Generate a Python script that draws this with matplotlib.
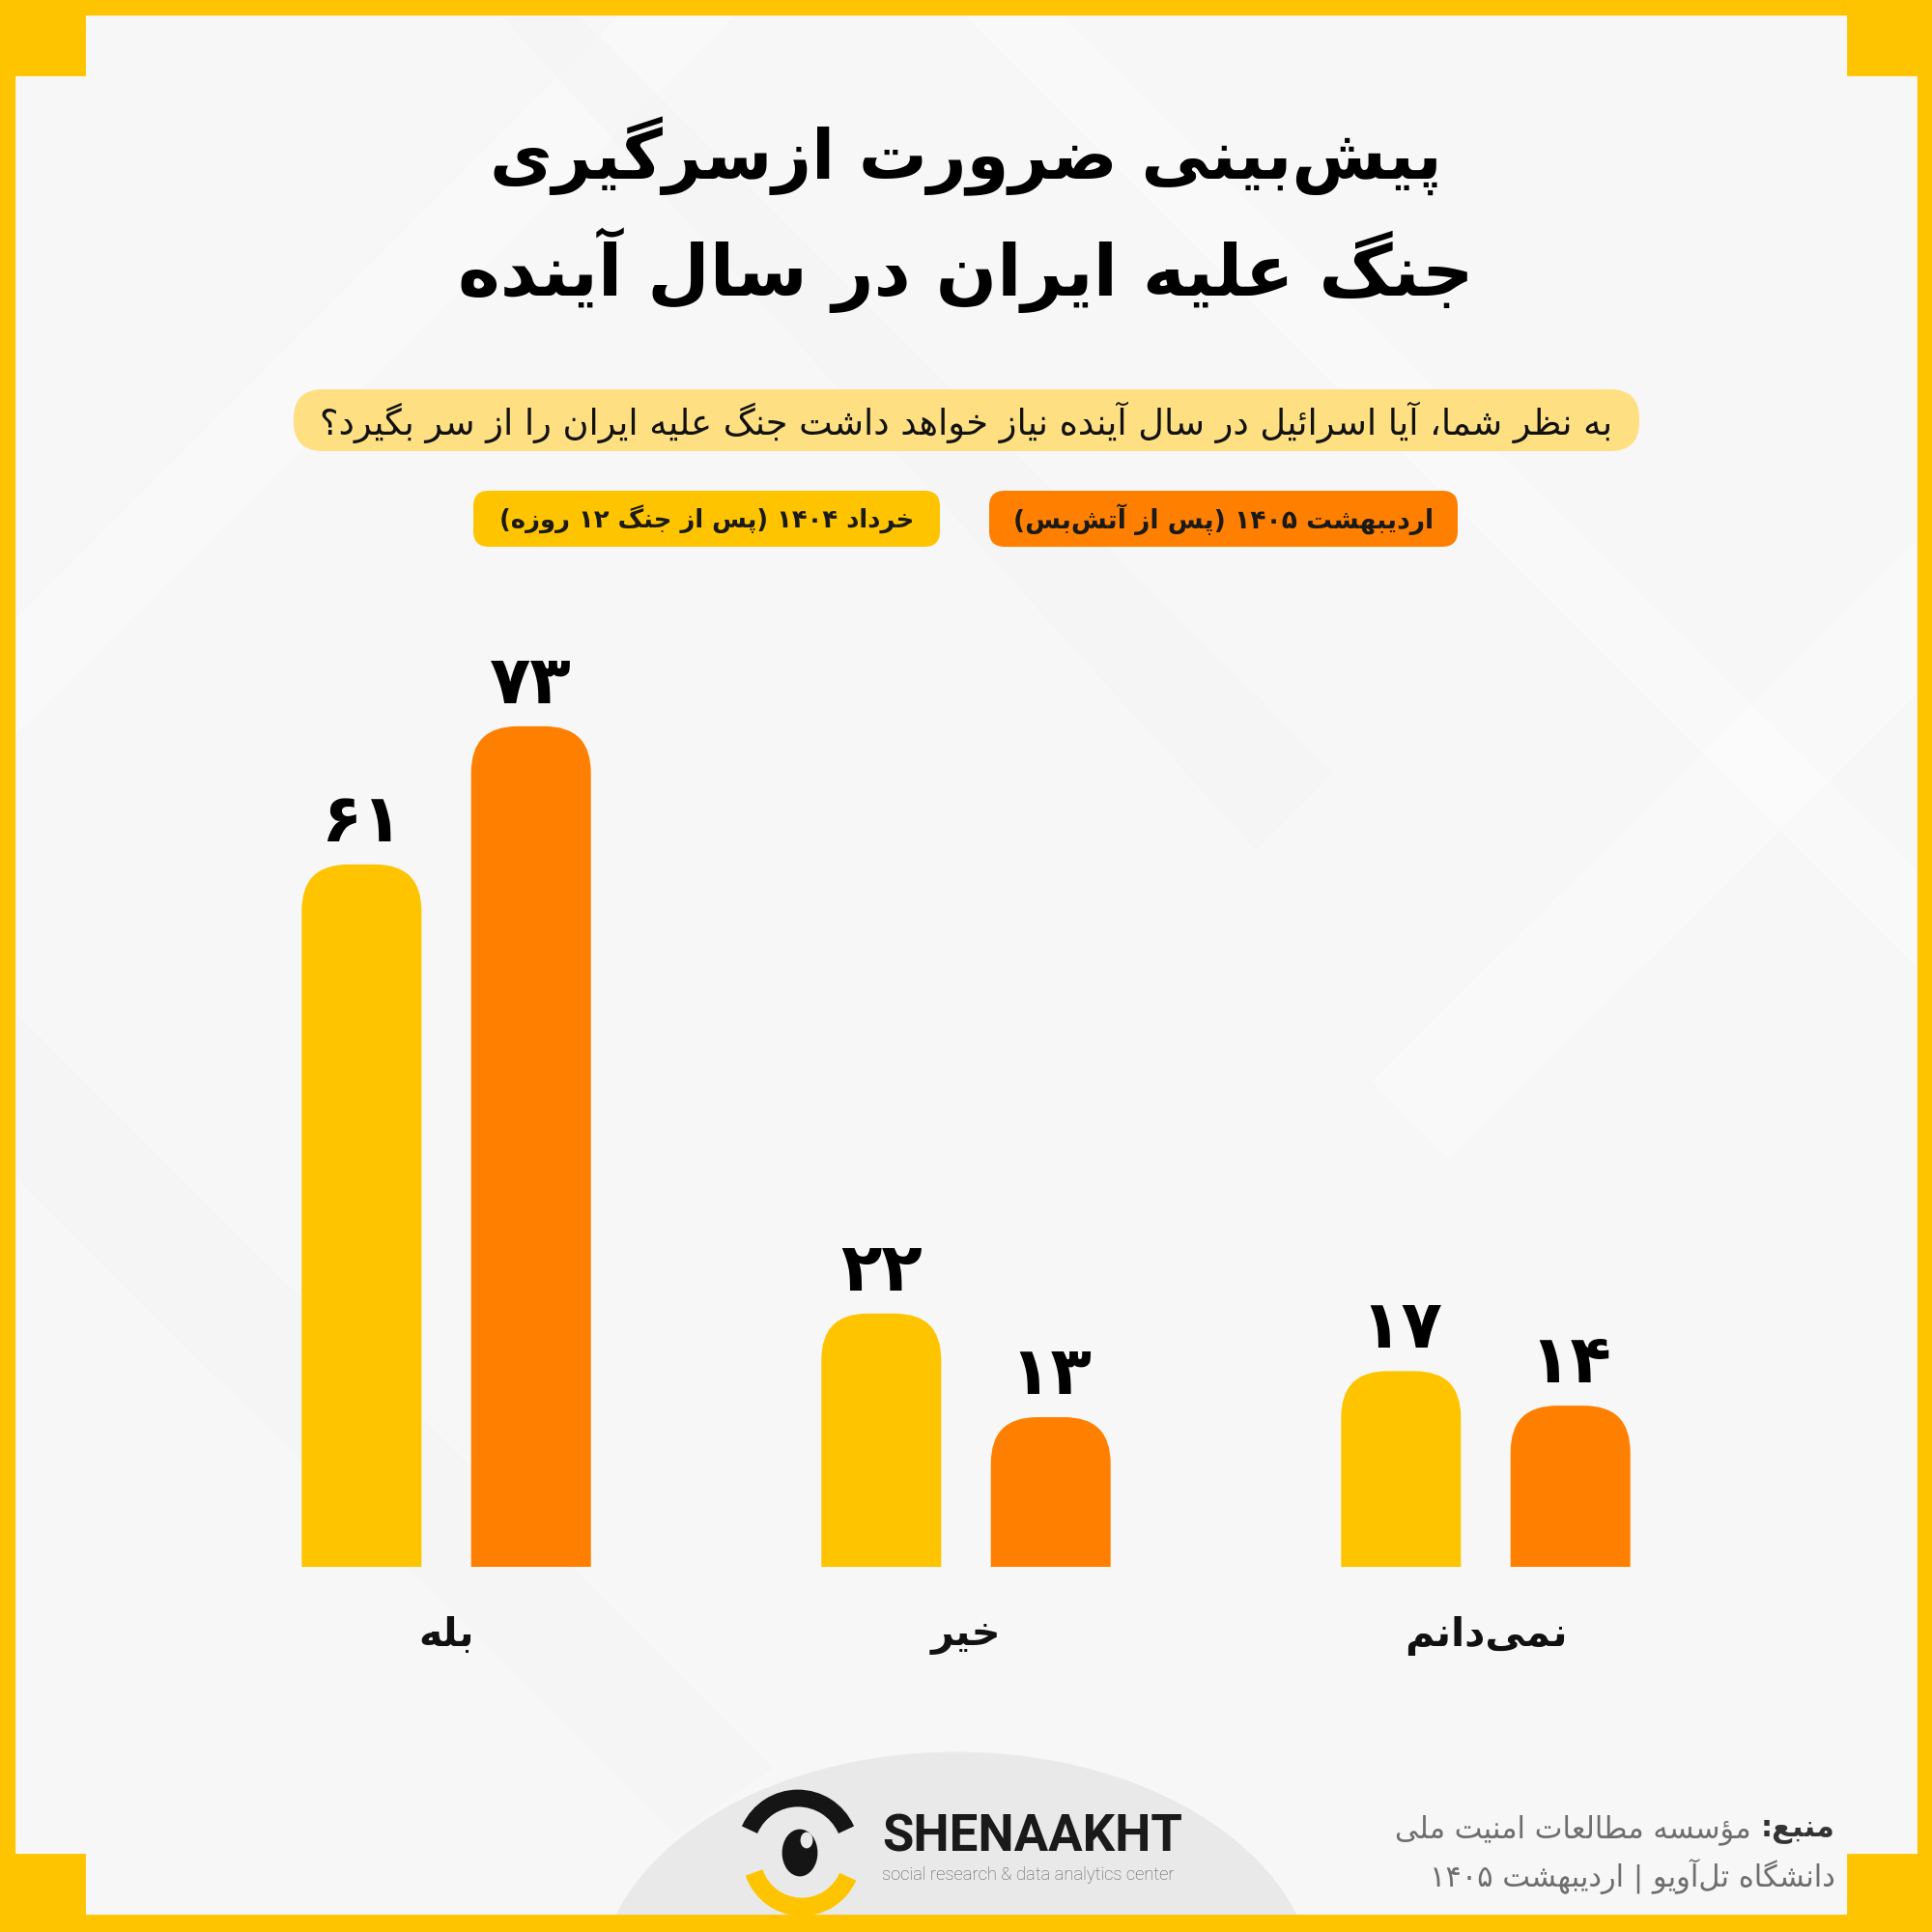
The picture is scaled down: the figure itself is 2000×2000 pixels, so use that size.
import matplotlib
matplotlib.use('Agg')
import matplotlib.pyplot as plt
from matplotlib.patches import Rectangle, FancyBboxPatch, Ellipse, Wedge, Polygon
import numpy as np

# data
categories = ['بله', 'خیر', 'نمی‌دانم']
series_names = ['خرداد ۱۴۰۴ (پس از جنگ ۱۲ روزه)', 'اردیبهشت ۱۴۰۵ (پس از آتش‌بس)']
values_khordad = [61, 22, 17]
values_ordibehesht = [73, 13, 14]
title_lines = ['پیش‌بینی ضرورت ازسرگیری', 'جنگ علیه ایران در سال آینده']
question = 'به نظر شما، آیا اسرائیل در سال آینده نیاز خواهد داشت جنگ علیه ایران را از سر بگیرد؟'
source_label = 'منبع:'
source_lines = ['مؤسسه مطالعات امنیت ملی', 'دانشگاه تل‌آویو | اردیبهشت ۱۴۰۵']

YEL = '#FFC400'
ORA = '#FF8000'
BG = '#f7f7f7'

# --- persian shaping (matplotlib 3.10 has no complex text layout) ---
FORMS = {
    '\u0621': ('\uFE80',),
    '\u0622': ('\uFE81', '\uFE82'), '\u0623': ('\uFE83', '\uFE84'),
    '\u0624': ('\uFE85', '\uFE86'), '\u0625': ('\uFE87', '\uFE88'),
    '\u0626': ('\uFE89', '\uFE8A', '\uFE8B', '\uFE8C'),
    '\u0627': ('\uFE8D', '\uFE8E'),
    '\u0628': ('\uFE8F', '\uFE90', '\uFE91', '\uFE92'),
    '\u0629': ('\uFE93', '\uFE94'),
    '\u062A': ('\uFE95', '\uFE96', '\uFE97', '\uFE98'),
    '\u062B': ('\uFE99', '\uFE9A', '\uFE9B', '\uFE9C'),
    '\u062C': ('\uFE9D', '\uFE9E', '\uFE9F', '\uFEA0'),
    '\u062D': ('\uFEA1', '\uFEA2', '\uFEA3', '\uFEA4'),
    '\u062E': ('\uFEA5', '\uFEA6', '\uFEA7', '\uFEA8'),
    '\u062F': ('\uFEA9', '\uFEAA'), '\u0630': ('\uFEAB', '\uFEAC'),
    '\u0631': ('\uFEAD', '\uFEAE'), '\u0632': ('\uFEAF', '\uFEB0'),
    '\u0698': ('\uFB8A', '\uFB8B'),
    '\u0633': ('\uFEB1', '\uFEB2', '\uFEB3', '\uFEB4'),
    '\u0634': ('\uFEB5', '\uFEB6', '\uFEB7', '\uFEB8'),
    '\u0635': ('\uFEB9', '\uFEBA', '\uFEBB', '\uFEBC'),
    '\u0636': ('\uFEBD', '\uFEBE', '\uFEBF', '\uFEC0'),
    '\u0637': ('\uFEC1', '\uFEC2', '\uFEC3', '\uFEC4'),
    '\u0638': ('\uFEC5', '\uFEC6', '\uFEC7', '\uFEC8'),
    '\u0639': ('\uFEC9', '\uFECA', '\uFECB', '\uFECC'),
    '\u063A': ('\uFECD', '\uFECE', '\uFECF', '\uFED0'),
    '\u0641': ('\uFED1', '\uFED2', '\uFED3', '\uFED4'),
    '\u0642': ('\uFED5', '\uFED6', '\uFED7', '\uFED8'),
    '\u0643': ('\uFED9', '\uFEDA', '\uFEDB', '\uFEDC'),
    '\u06A9': ('\uFB8E', '\uFB8F', '\uFB90', '\uFB91'),
    '\u06AF': ('\uFB92', '\uFB93', '\uFB94', '\uFB95'),
    '\u0644': ('\uFEDD', '\uFEDE', '\uFEDF', '\uFEE0'),
    '\u0645': ('\uFEE1', '\uFEE2', '\uFEE3', '\uFEE4'),
    '\u0646': ('\uFEE5', '\uFEE6', '\uFEE7', '\uFEE8'),
    '\u0647': ('\uFEE9', '\uFEEA', '\uFEEB', '\uFEEC'),
    '\u0648': ('\uFEED', '\uFEEE'),
    '\u0649': ('\uFEEF', '\uFEF0'),
    '\u064A': ('\uFEF1', '\uFEF2', '\uFEF3', '\uFEF4'),
    '\u06CC': ('\uFEEF', '\uFEF0', '\uFEF3', '\uFEF4'),
    '\u067E': ('\uFB56', '\uFB57', '\uFB58', '\uFB59'),
    '\u0686': ('\uFB7A', '\uFB7B', '\uFB7C', '\uFB7D'),
}
LAMALEF = {'\u0622': ('\uFEF5', '\uFEF6'), '\u0623': ('\uFEF7', '\uFEF8'),
           '\u0625': ('\uFEF9', '\uFEFA'), '\u0627': ('\uFEFB', '\uFEFC')}
LTR = set('0123456789۰۱۲۳۴۵۶۷۸۹ABCDEFGHIJKLMNOPQRSTUVWXYZabcdefghijklmnopqrstuvwxyz')


def dual(c):
    return c in FORMS and len(FORMS[c]) == 4


def shape(s):
    out = []
    i = 0
    while i < len(s):
        c = s[i]
        if c not in FORMS:
            out.append(c)
            i += 1
            continue
        pj = i > 0 and dual(s[i - 1])
        if c == '\u0644' and i + 1 < len(s) and s[i + 1] in LAMALEF:
            out.append(LAMALEF[s[i + 1]][1 if pj else 0])
            i += 2
            continue
        nj = i + 1 < len(s) and s[i + 1] in FORMS and len(FORMS[s[i + 1]]) > 1
        f = FORMS[c]
        if len(f) == 4:
            g = f[3] if (pj and nj) else f[1] if pj else f[2] if nj else f[0]
        else:
            g = f[1] if (pj and len(f) > 1) else f[0]
        out.append(g)
        i += 1
    return ''.join(ch for ch in out if ch != '\u200c')


def fa(s):
    g = shape(s)
    runs = []
    for ch in g:
        kind = ch in LTR
        if runs and runs[-1][0] == kind and kind:
            runs[-1][1].append(ch)
        else:
            runs.append([kind, [ch]])
    res = []
    for kind, chars in reversed(runs):
        if kind:
            res.append(''.join(chars))
        else:
            res.append(''.join({'(': ')', ')': '('}.get(c, c) for c in reversed(chars)))
    return ''.join(res)


def fa_num(n):
    return str(n).translate(str.maketrans('0123456789', '۰۱۲۳۴۵۶۷۸۹'))


fig = plt.figure(figsize=(10, 10), dpi=200)
bg = fig.add_axes([0, 0, 1, 1])
bg.set_xlim(0, 2000)
bg.set_ylim(2000, 0)
bg.axis('off')

# frame + background
bg.add_patch(Rectangle((0, 0), 2000, 2000, color=YEL, zorder=0))
bg.add_patch(Rectangle((17, 17), 1966, 1966, color=BG, zorder=0.1))
for pts, col in [([(17, 640), (640, 17), (760, 17), (17, 760)], 'white'),
                 ([(600, 17), (1380, 800), (1300, 880), (520, 17)], '#f2f2f2'),
                 ([(1983, 560), (1420, 1120), (1500, 1200), (1983, 720)], 'white'),
                 ([(17, 1050), (800, 1830), (700, 1900), (17, 1220)], '#f2f2f2'),
                 ([(1100, 17), (1983, 900), (1983, 1000), (1000, 17)], 'white')]:
    bg.add_patch(Polygon(pts, closed=True, color=col, alpha=0.35, lw=0, zorder=0.2))

# logo backdrop
bg.add_patch(Ellipse((990, 2060), 740, 490, color='#e9e9e9', zorder=0.3))
for xy, w, h in [((0, 0), 87, 77), ((1913, 0), 87, 77), ((0, 1920), 87, 80), ((1913, 1920), 87, 80)]:
    bg.add_patch(Rectangle(xy, w, h, color=YEL, zorder=0.5))
bg.add_patch(Rectangle((0, 1983), 2000, 17, color=YEL, zorder=0.5))

FONT = 'DejaVu Sans'
renderer = fig.canvas.get_renderer()


def fit(t, target):
    w = t.get_window_extent(renderer).width
    t.set_fontsize(t.get_fontsize() * target / w)


# title
for line, y, w in zip(title_lines, [185, 306], [984, 1053]):
    t = bg.text(1000, y, fa(line), ha='center', va='baseline', fontsize=40,
                family=FONT, weight='bold', color='black', zorder=2)
    fit(t, w)

# question box
bg.add_patch(FancyBboxPatch((304, 403), 1393, 64, boxstyle='round,pad=0,rounding_size=30',
                            fc='#FEE083', ec='none', zorder=1))
t = bg.text(1000, 437, fa(question), ha='center', va='center', fontsize=18,
            family=FONT, color='#111111', zorder=2)
fit(t, 1340)

# legend boxes
for name, x0, x1, col, tw in [(series_names[0], 490, 973, YEL, 430),
                              (series_names[1], 1024, 1509, ORA, 437)]:
    bg.add_patch(FancyBboxPatch((x0, 508), x1 - x0, 58, boxstyle='round,pad=0,rounding_size=16',
                                fc=col, ec='none', zorder=1))
    t = bg.text((x0 + x1) / 2, 538, fa(name), ha='center', va='center', fontsize=16,
                family=FONT, weight='bold', color='#1a1a1a', zorder=2)
    fit(t, tw)

# bars
ax = fig.add_axes([193 / 2000, 1 - 1622 / 2000, 1614 / 2000, 953.6 / 2000])
ax.set_xlim(-0.5, 2.5)
ax.set_ylim(0, 80)
ax.axis('off')
x = np.arange(len(categories))
bw = 124 / 538
off = 87.7 / 538
b1 = ax.bar(x - off, values_khordad, width=bw, color=YEL)
b2 = ax.bar(x + off, values_ordibehesht, width=bw, color=ORA)
pos = ax.get_position()
px_x = pos.width * 2000 / 3.0
px_y = pos.height * 2000 / 80.0
asp = px_x / px_y
r = 48 / px_x
for b in list(b1) + list(b2):
    x0, w, h = b.get_x(), b.get_width(), b.get_height()
    ax.add_patch(FancyBboxPatch((x0, -10), w, h + 10,
                                boxstyle=f'round,pad=0,rounding_size={r}',
                                mutation_aspect=asp, fc=b.get_facecolor(), ec='none'))
    b.set_visible(False)
    ax.text(x0 + w / 2, h + 24 / px_y, fa_num(int(h)), ha='center', va='baseline',
            fontsize=25, family=FONT, weight='bold', color='black')

cat_texts = []
for i, c in enumerate(categories):
    cat_texts.append(ax.text(x[i], -71 / px_y, fa(c), ha='center', va='center', fontsize=24,
                             family=FONT, weight='bold', color='#111111'))
w0 = cat_texts[2].get_window_extent(renderer).width
for t in cat_texts:
    t.set_fontsize(t.get_fontsize() * 168 / w0)

# source
tl = bg.text(1900, 1894, fa(source_label), ha='right', va='center', fontsize=14,
             family=FONT, weight='bold', color='#333333', zorder=2)
t2 = bg.text(1900, 1942, fa(source_lines[1]), ha='right', va='center', fontsize=14,
             family=FONT, color='#6e6e6e', zorder=2)
fit(t2, 420)
tl.set_fontsize(t2.get_fontsize())
lw = tl.get_window_extent(renderer).width
bg.text(1900 - lw - 10, 1894, fa(source_lines[0]), ha='right', va='center',
        fontsize=t2.get_fontsize(), family=FONT, color='#6e6e6e', zorder=2)

# logo
cx, cy = 826, 1916
bg.add_patch(Wedge((cx, cy), 62, 205, 335, width=15, color='#151515', zorder=2))
bg.add_patch(Wedge((cx + 4, cy + 6), 60, 25, 160, width=16, color=YEL, zorder=2))
bg.add_patch(Ellipse((cx + 2, cy + 2), 34, 46, color='#151515', zorder=2))
bg.add_patch(Ellipse((cx + 9, cy - 11), 10, 14, color='#e9e9e9', zorder=2))
t = bg.text(913, 1902, 'SHENAAKHT', ha='left', va='center', fontsize=30,
            family=['Liberation Sans Narrow', 'Roboto'], weight='bold', color='#1a1a1a', zorder=2)
fit(t, 311)
t = bg.text(913, 1941, 'social research & data analytics center', ha='left', va='center',
            fontsize=9, family='Roboto', weight='light', color='#555555', zorder=2)
fit(t, 302)

fig.savefig('out.png', dpi=200)
